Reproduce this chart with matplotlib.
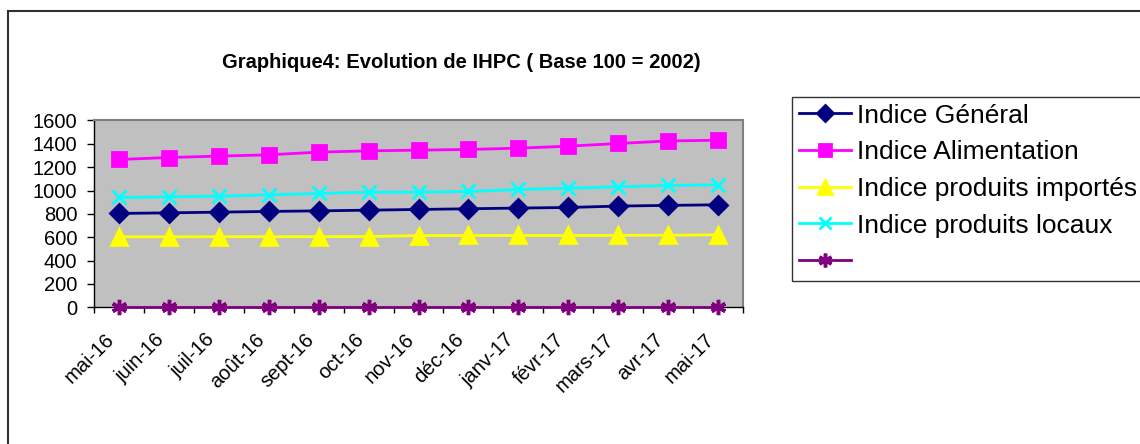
import numpy as np
import matplotlib.pyplot as plt
from matplotlib.patches import Rectangle
from matplotlib.transforms import ScaledTranslation

plt.rcParams['font.family'] = ['Liberation Sans', 'DejaVu Sans']

mois = ['mai-16', 'juin-16', 'juil-16', 'août-16', 'sept-16', 'oct-16', 'nov-16',
        'déc-16', 'janv-17', 'févr-17', 'mars-17', 'avr-17', 'mai-17']
indice_general = [804, 809, 815, 821, 826, 832, 838, 844, 850, 855, 867, 873, 878]
indice_alimentation = [1266, 1283, 1295, 1306, 1329, 1340, 1346, 1352, 1363, 1380, 1403, 1425, 1431]
indice_importes = [604, 604, 605, 605, 605, 606, 614, 615, 615, 615, 616, 617, 621]
indice_locaux = [941, 946, 952, 963, 975, 986, 986, 992, 1009, 1020, 1032, 1044, 1049]
serie_vide = [0, 0, 0, 0, 0, 0, 0, 0, 0, 0, 0, 0, 0]

fig = plt.figure(figsize=(11.4, 4.44), dpi=100)
ax = fig.add_axes([94 / 1140, 1 - 307.3 / 444, (743 - 94) / 1140, (307.3 - 120.5) / 444])
ax.set_facecolor('#C0C0C0')

x = np.arange(len(mois))
series = [
    (indice_general, 'Indice Général', '#000080', 'D', 9),
    (indice_alimentation, 'Indice Alimentation', '#FF00FF', 's', 10),
    (indice_importes, 'Indice produits importés', '#FFFF00', '^', 11),
    (indice_locaux, 'Indice produits locaux', '#00FFFF', 'x', 10),
    (serie_vide, ' ', '#800080', (6, 2, 0), 11),
]
for vals, lab, col, mk, ms in series:
    ax.plot(x, vals, color=col, lw=2, marker=mk, ms=ms, mec=col, mfc=col,
            mew=2.5 if mk == (6, 2, 0) else 2, label=lab, clip_on=False, zorder=3)

ax.set_xlim(-0.5, len(mois) - 0.5)
ax.set_ylim(0, 1600)
ax.set_yticks(np.arange(0, 1601, 200))
ax.set_xticks(x)
ax.set_xticklabels(mois, rotation=45, ha='right', va='top', rotation_mode='anchor')
ax.set_xticks(np.arange(-0.5, len(mois), 1), minor=True)
ax.tick_params(axis='x', which='major', length=0, pad=15, labelsize=14.5)
ax.tick_params(axis='x', which='minor', length=4, width=1, direction='out')
ax.tick_params(axis='y', length=5, width=1, pad=7, labelsize=14.5)

# shift the slanted month labels a bit to the left, as in the original
decal = ScaledTranslation(-14 / 100, -2 / 100, fig.dpi_scale_trans)
for lbl in ax.get_xticklabels():
    lbl.set_transform(lbl.get_transform() + decal)

for s in ['top', 'right']:
    ax.spines[s].set_color('#808080')
    ax.spines[s].set_linewidth(1.5)
for s in ['left', 'bottom']:
    ax.spines[s].set_color('black')
    ax.spines[s].set_linewidth(1)

fig.text(461 / 1140, 1 - 63 / 444, 'Graphique4: Evolution de IHPC ( Base 100 = 2002)',
         ha='center', va='center', fontsize=14.5, fontweight='bold')

leg = fig.legend(loc='upper left', bbox_to_anchor=(792 / 1140, 1 - 97 / 444),
                 fontsize=19, frameon=True, fancybox=False, borderaxespad=0,
                 handlelength=2.0, handletextpad=0.2, labelspacing=0.48,
                 borderpad=0.25, markerscale=0.9)
leg.get_frame().set_edgecolor('black')
leg.get_frame().set_linewidth(1)

fig.patches.append(Rectangle((8 / 1140, -0.1), 1.2, 1 - 11 / 444 + 0.1,
                             transform=fig.transFigure, fill=False,
                             edgecolor='#303030', lw=1.5))

fig.savefig('out.png', dpi=100)
